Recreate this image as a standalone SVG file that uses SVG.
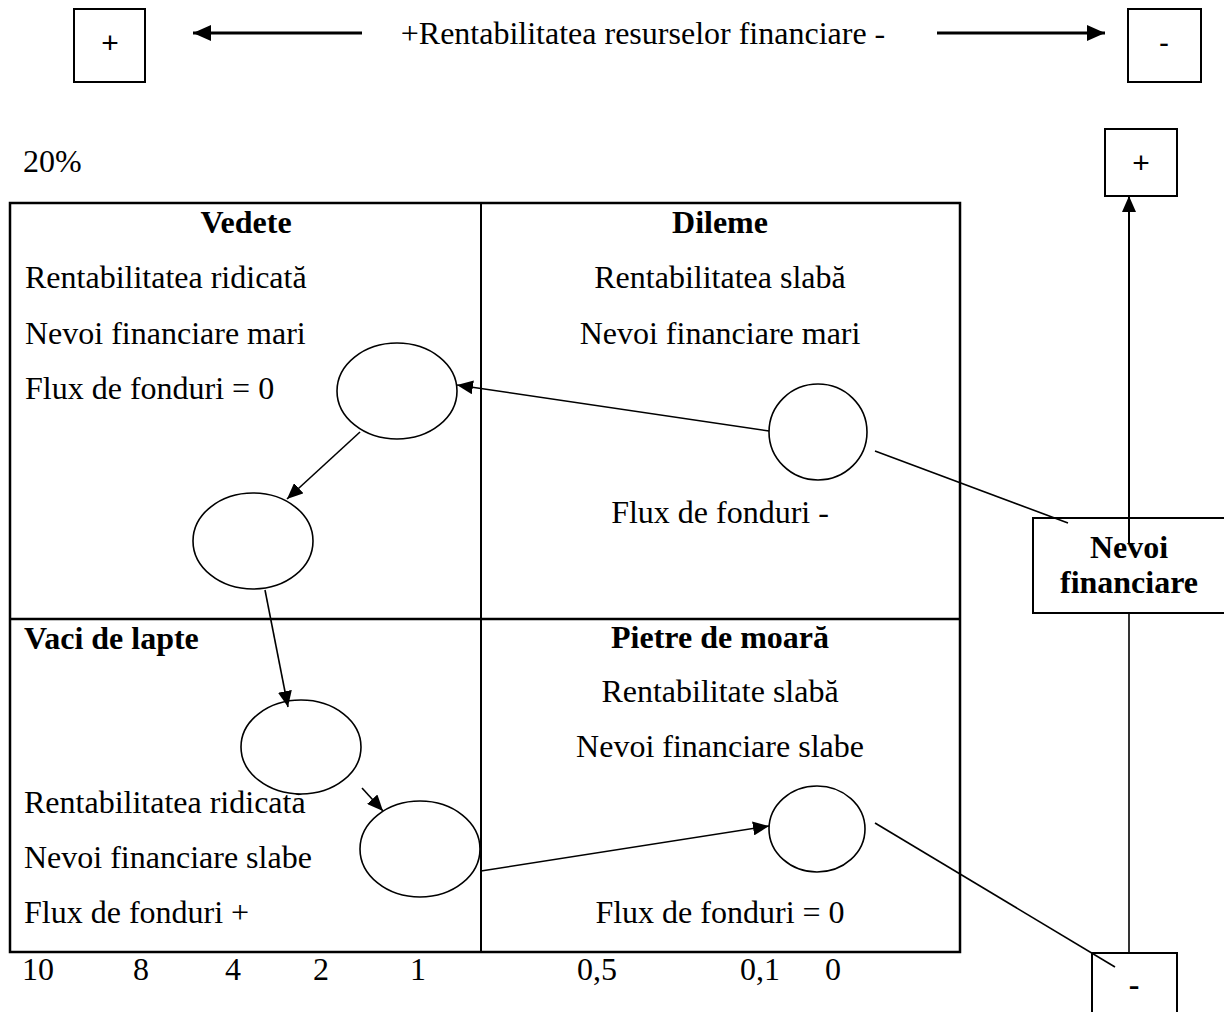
<svg xmlns="http://www.w3.org/2000/svg" width="1224" height="1012" viewBox="0 0 1224 1012">
<defs>
<style>
text{font-family:"Liberation Serif","Times New Roman",serif;font-size:32px;fill:#000}
.b{font-weight:bold}
.c{text-anchor:middle}
.box{fill:#fff;stroke:#000;stroke-width:2}
.ell{fill:#fff;stroke:#000;stroke-width:1.6}
.ln{stroke:#000;stroke-width:1.6;fill:none}
.thick{stroke:#000;stroke-width:3;fill:none}
.sym{font-family:"Liberation Sans",Arial,sans-serif;font-size:30px}
</style>
<marker id="ah" markerUnits="userSpaceOnUse" markerWidth="16" markerHeight="14" refX="16" refY="7" orient="auto">
<path d="M0,0 L16,7 L0,14 Z" fill="#000"/>
</marker>
<marker id="ahBig" markerUnits="userSpaceOnUse" markerWidth="18" markerHeight="16" refX="18" refY="8" orient="auto">
<path d="M0,0 L18,8 L0,16 Z" fill="#000"/>
</marker>
</defs>
<rect width="1224" height="1012" fill="#fff"/>

<g id="grid">
<rect x="10" y="203" width="950" height="749" fill="none" stroke="#000" stroke-width="2.5"/>
<line x1="481" y1="203" x2="481" y2="952" stroke="#000" stroke-width="2"/>
<line x1="10" y1="619" x2="960" y2="619" stroke="#000" stroke-width="2.5"/>
</g>

<g id="top-plus"><rect class="box" x="74" y="9" width="71" height="73"/><text class="sym c" x="110" y="53">+</text></g>
<g id="top-minus"><rect class="box" x="1128" y="9" width="73" height="73"/><text class="sym c" x="1164" y="53">-</text></g>
<g id="top-label"><text class="c" x="643" y="44">+Rentabilitatea resurselor financiare -</text></g>
<g id="label-20"><text x="23" y="172">20%</text></g>

<g id="q-vedete">
<text class="b c" x="246" y="233">Vedete</text>
<text x="25" y="288">Rentabilitatea ridicată</text>
<text x="25" y="344">Nevoi financiare mari</text>
<text x="25" y="399">Flux de fonduri = 0</text>
</g>
<g id="q-dileme">
<text class="b c" x="720" y="233">Dileme</text>
<text class="c" x="720" y="288">Rentabilitatea slabă</text>
<text class="c" x="720" y="344">Nevoi financiare mari</text>
<text class="c" x="720" y="523">Flux de fonduri -</text>
</g>
<g id="q-vaci">
<text class="b" x="24" y="649">Vaci de lapte</text>
<text x="24" y="813">Rentabilitatea ridicată</text>
<text x="24" y="868">Nevoi financiare slabe</text>
<text x="24" y="923">Flux de fonduri +</text>
</g>
<g id="q-pietre">
<text class="b c" x="720" y="648">Pietre de moară</text>
<text class="c" x="720" y="702">Rentabilitate slabă</text>
<text class="c" x="720" y="757">Nevoi financiare slabe</text>
<text class="c" x="720" y="923">Flux de fonduri = 0</text>
</g>

<g id="axis">
<text x="22" y="980">10</text>
<text x="133" y="980">8</text>
<text x="225" y="980">4</text>
<text x="313" y="980">2</text>
<text x="410" y="980">1</text>
<text x="577" y="980">0,5</text>
<text x="740" y="980">0,1</text>
<text x="825" y="980">0</text>
</g>

<g id="e1"><ellipse class="ell" cx="397" cy="391" rx="60" ry="48"/></g>
<g id="e2"><ellipse class="ell" cx="253" cy="541" rx="60" ry="48"/></g>
<g id="e3"><ellipse class="ell" cx="301" cy="747" rx="60" ry="47"/></g>
<g id="e4"><ellipse class="ell" cx="420" cy="849" rx="60" ry="48"/></g>
<g id="e5"><ellipse class="ell" cx="818" cy="432" rx="49" ry="48"/></g>
<g id="e6"><ellipse class="ell" cx="817" cy="829" rx="48" ry="43"/></g>

<g id="right-plus"><rect class="box" x="1105" y="129" width="72" height="67"/><text class="sym c" x="1141" y="173">+</text></g>

<g id="nevoi">
<rect class="box" x="1033" y="518" width="200" height="95"/>
<text class="b c" x="1129" y="558">Nevoi</text>
<text class="b c" x="1129" y="593">financiare</text>
</g>
<g id="right-minus">
<rect class="box" x="1092" y="953" width="85" height="80"/>
<text class="b c" x="1134" y="995">-</text>
</g>

<g id="connectors">
<line class="thick" x1="362" y1="33" x2="193" y2="33" marker-end="url(#ahBig)"/>
<line class="thick" x1="937" y1="33" x2="1105" y2="33" marker-end="url(#ahBig)"/>
<line class="ln" x1="769" y1="431" x2="457" y2="385" marker-end="url(#ah)"/>
<line class="ln" x1="360" y1="432" x2="287" y2="499" marker-end="url(#ah)"/>
<line class="ln" x1="265" y1="590" x2="288" y2="707" marker-end="url(#ah)"/>
<line class="ln" x1="362" y1="788" x2="383" y2="811" marker-end="url(#ah)"/>
<line class="ln" x1="481" y1="871" x2="769" y2="826" marker-end="url(#ah)"/>
<line class="ln" x1="875" y1="451" x2="1068" y2="523"/>
<line class="ln" x1="875" y1="823" x2="1115" y2="967"/>
<line class="ln" x1="1129" y1="613" x2="1129" y2="953"/>
<line class="ln" style="stroke-width:2" x1="1129" y1="543" x2="1129" y2="196" marker-end="url(#ah)"/>
</g>
</svg>
